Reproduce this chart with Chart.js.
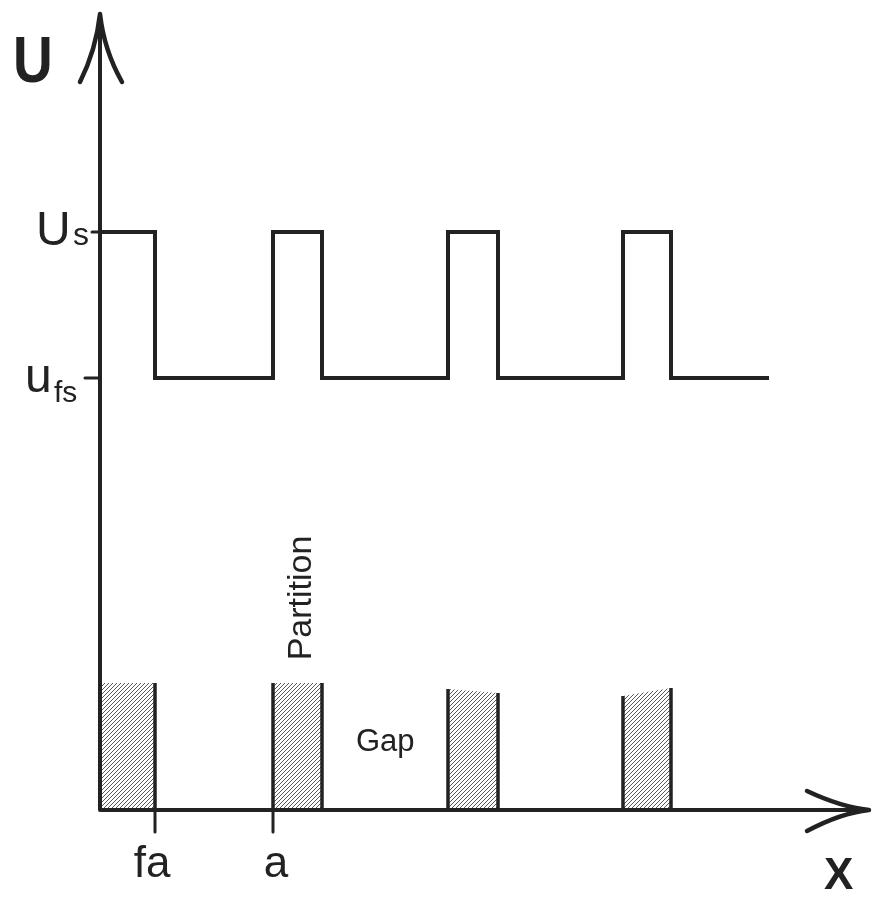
<!DOCTYPE html>
<html>
<head>
<meta charset="utf-8">
<script src="https://cdn.jsdelivr.net/npm/chart.js@4.4.0/dist/chart.umd.min.js"></script>
<style>
  body { margin: 0; background: #fff; }
  #chartCanvas { display: block; }
</style>
</head>
<body>
<canvas id="chartCanvas" width="875" height="898"></canvas>
<script>
// DATA (arbitrary schematic units, x from the U axis, y from the X axis)

const levelUs = 578;      // U_s
const levelUfs = 432;     // u_fs
const riseX = [0, 173, 348, 523];
const fallX = [55, 222, 398, 571];
const waveEnd = 669;

// partitions: left/right edge and height at each edge
const partLeft = [0, 173, 348, 523];
const partRight = [55, 222, 398, 571];
const partTopL = [127, 127, 121, 114];
const partTopR = [127, 127, 117, 122];

const xTicks = [55, 173];
const xTickLabels = ['fa', 'a'];

const xMax = 771;
const yMax = 798;

// SQUARE WAVE

const wave = [];
for (let i = 0; i < riseX.length; i++) {
  if (i > 0) wave.push({x: riseX[i], y: levelUfs});
  wave.push({x: riseX[i], y: levelUs});
  wave.push({x: fallX[i], y: levelUs});
  wave.push({x: fallX[i], y: levelUfs});
}
wave.push({x: waveEnd, y: levelUfs});

// HATCH PATTERN

function hatch() {
  const c = document.createElement('canvas');
  c.width = 4; c.height = 4;
  const g = c.getContext('2d');
  g.strokeStyle = '#444';
  g.lineWidth = 0.9;
  g.beginPath();
  g.moveTo(-1, 5); g.lineTo(5, -1);
  g.moveTo(-1, 1); g.lineTo(1, -1);
  g.moveTo(3, 5); g.lineTo(5, 3);
  g.stroke();
  return g.createPattern(c, 'repeat');
}
const pattern = hatch();

const datasets = [{
  data: wave,
  borderColor: '#222',
  borderWidth: 4,
  pointRadius: 0,
  fill: false,
  tension: 0
}];

for (let i = 0; i < partLeft.length; i++) {
  datasets.push({
    data: [
      {x: partLeft[i], y: 0},
      {x: partLeft[i], y: partTopL[i]},
      {x: partRight[i], y: partTopR[i]},
      {x: partRight[i], y: 0}
    ],
    borderColor: '#222',
    borderWidth: 3.5,
    backgroundColor: pattern,
    pointRadius: 0,
    fill: 'origin',
    tension: 0,
    segment: {
      borderColor: ctx => ctx.p0DataIndex === 1 ? 'rgba(0,0,0,0)' : undefined
    }
  });
}

// AXES, ARROWS AND LABELS

const decorPlugin = {
  id: 'decor',
  afterDatasetsDraw(chart) {
    const ctx = chart.ctx;
    const xs = chart.scales.x, ys = chart.scales.y;
    const x0 = xs.getPixelForValue(0), y0 = ys.getPixelForValue(0);
    const yTop = ys.getPixelForValue(yMax), xEnd = xs.getPixelForValue(xMax);
    ctx.save();
    ctx.strokeStyle = '#222';
    ctx.fillStyle = '#222';
    ctx.lineCap = 'round';
    ctx.lineJoin = 'round';

    // axis lines
    ctx.lineWidth = 4;
    ctx.beginPath();
    ctx.moveTo(x0, y0); ctx.lineTo(x0, yTop + 4);
    ctx.moveTo(x0, y0); ctx.lineTo(xEnd - 4, y0);
    ctx.stroke();

    // y arrow head
    ctx.lineWidth = 4.5;
    ctx.beginPath();
    ctx.moveTo(x0 - 20, yTop + 70);
    ctx.quadraticCurveTo(x0 - 4, yTop + 38, x0, yTop + 2);
    ctx.quadraticCurveTo(x0 + 4, yTop + 38, x0 + 22, yTop + 70);
    ctx.stroke();

    // x arrow head
    ctx.beginPath();
    ctx.moveTo(xEnd - 64, y0 - 19);
    ctx.quadraticCurveTo(xEnd - 30, y0 - 3, xEnd - 2, y0);
    ctx.quadraticCurveTo(xEnd - 30, y0 + 3, xEnd - 64, y0 + 21);
    ctx.stroke();

    // y ticks
    ctx.lineWidth = 3;
    ctx.beginPath();
    ctx.moveTo(x0 - 8, ys.getPixelForValue(levelUs)); ctx.lineTo(x0, ys.getPixelForValue(levelUs));
    ctx.moveTo(x0 - 15, ys.getPixelForValue(levelUfs)); ctx.lineTo(x0, ys.getPixelForValue(levelUfs));
    // x ticks
    xTicks.forEach(v => {
      const px = xs.getPixelForValue(v);
      ctx.moveTo(px, y0); ctx.lineTo(px, y0 + 22);
    });
    ctx.stroke();

    ctx.textBaseline = 'alphabetic';
    const fam = '"Liberation Sans", Arial, sans-serif';

    // tick labels on x
    ctx.textAlign = 'center';
    ctx.font = '44px ' + fam;
    xTickLabels.forEach((t, i) => {
      ctx.fillText(t, xs.getPixelForValue(xTicks[i]) - 3 + i * 6, y0 + 67);
    });

    // axis titles
    ctx.font = 'bold 64px ' + fam;
    ctx.textAlign = 'left';
    ctx.save();
    ctx.translate(13, 82);
    ctx.scale(0.86, 1);
    ctx.fillText('U', 0, 0);
    ctx.restore();
    ctx.font = 'bold 44px ' + fam;
    ctx.fillText('X', 824, 889);

    // Us
    ctx.font = '48px ' + fam;
    ctx.fillText('U', 36, ys.getPixelForValue(levelUs) + 13);
    ctx.font = '32px ' + fam;
    ctx.fillText('s', 73, ys.getPixelForValue(levelUs) + 13);

    // ufs
    ctx.font = '48px ' + fam;
    ctx.fillText('u', 25, ys.getPixelForValue(levelUfs) + 14);
    ctx.font = '30px ' + fam;
    ctx.fillText('fs', 54, ys.getPixelForValue(levelUfs) + 24);

    // Partition / Gap
    ctx.font = '34px ' + fam;
    ctx.save();
    ctx.translate(311, 598);
    ctx.rotate(-Math.PI / 2);
    ctx.textAlign = 'center';
    ctx.fillText('Partition', 0, 0);
    ctx.restore();
    ctx.font = '31px ' + fam;
    ctx.textAlign = 'left';
    ctx.fillText('Gap', 356, 751);

    ctx.restore();
  }
};

new Chart(document.getElementById('chartCanvas'), {
  type: 'line',
  data: { datasets: datasets },
  options: {
    responsive: false,
    animation: false,
    layout: { autoPadding: false, padding: { left: 100, top: 12, right: 4, bottom: 88 } },
    plugins: { legend: { display: false }, tooltip: { enabled: false } },
    scales: {
      x: { type: 'linear', min: 0, max: xMax, display: false },
      y: { type: 'linear', min: 0, max: yMax, display: false }
    }
  },
  plugins: [decorPlugin]
});
</script>
</body>
</html>
